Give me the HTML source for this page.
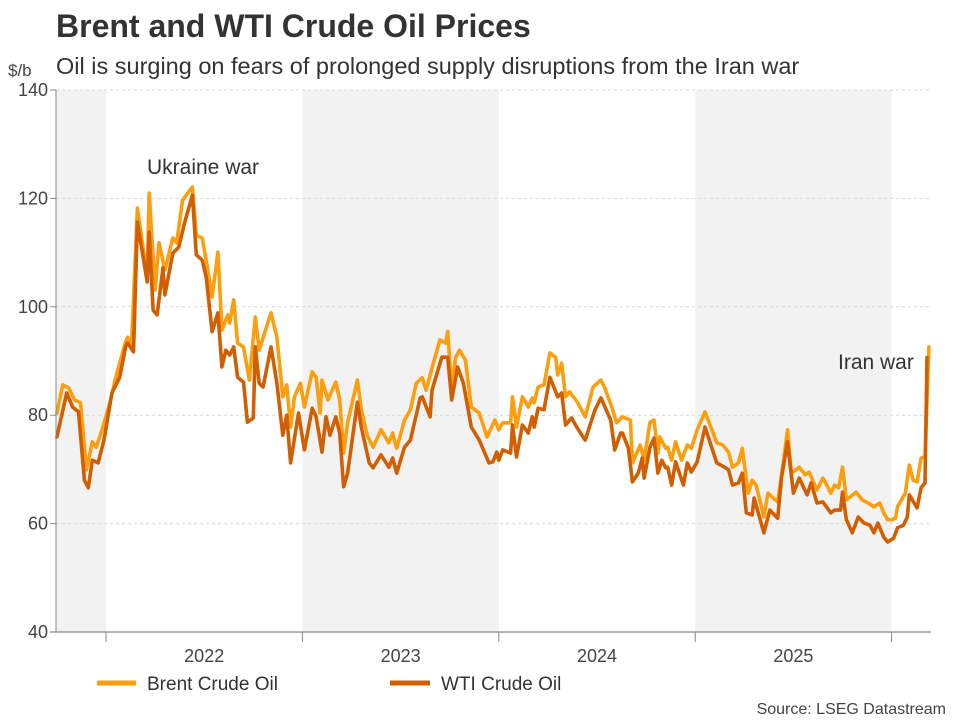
<!DOCTYPE html>
<html><head><meta charset="utf-8">
<style>
html,body{margin:0;padding:0;background:#fff;}
body{width:960px;height:720px;overflow:hidden;font-family:"Liberation Sans",sans-serif;}
svg text{font-family:"Liberation Sans",sans-serif;}
</style></head>
<body>
<svg id="chart" width="960" height="720" viewBox="0 0 960 720" xmlns="http://www.w3.org/2000/svg">
<text x="56" y="37" font-size="32" font-weight="bold" fill="#333">Brent and WTI Crude Oil Prices</text>
<text x="56" y="74" font-size="23.5" fill="#333">Oil is surging on fears of prolonged supply disruptions from the Iran war</text>
<text x="8" y="76" font-size="17" fill="#444">$/b</text>
<g id="bands"></g>
<g id="grid"></g>
<g id="series"></g>
<g id="axes"></g>
<text x="147" y="174" font-size="21" fill="#333">Ukraine war</text>
<text x="838" y="369" font-size="21" fill="#333">Iran war</text>
<g>
<line x1="97" y1="683" x2="136" y2="683" stroke="#fb9e0f" stroke-width="5"/>
<text x="147" y="690" font-size="19" fill="#333">Brent Crude Oil</text>
<line x1="390" y1="683" x2="430" y2="683" stroke="#d15f02" stroke-width="5"/>
<text x="441" y="690" font-size="19" fill="#333">WTI Crude Oil</text>
</g>
<text x="946" y="714" font-size="16" fill="#444" text-anchor="end">Source: LSEG Datastream</text>
</svg>
<script>
const yTicks = [40, 60, 80, 100, 120, 140];
const yearLabels = ["2022", "2023", "2024", "2025"];
const yearBoundaries = [2022, 2023, 2024, 2025, 2026];
const brentDates = [2021.75,2021.78,2021.81,2021.84,2021.87,2021.90,2021.93,2021.95,2021.98,2022.02,2022.05,2022.07,2022.10,2022.11,2022.13,2022.16,2022.21,2022.22,2022.25,2022.27,2022.30,2022.34,2022.36,2022.39,2022.44,2022.46,2022.49,2022.51,2022.54,2022.57,2022.59,2022.62,2022.63,2022.65,2022.67,2022.70,2022.73,2022.76,2022.78,2022.84,2022.87,2022.90,2022.92,2022.94,2022.96,2022.99,2023.01,2023.05,2023.07,2023.09,2023.10,2023.13,2023.17,2023.19,2023.21,2023.23,2023.28,2023.30,2023.33,2023.36,2023.40,2023.44,2023.46,2023.48,2023.52,2023.55,2023.58,2023.61,2023.63,2023.66,2023.70,2023.73,2023.74,2023.76,2023.78,2023.80,2023.83,2023.86,2023.90,2023.94,2023.98,2024.00,2024.02,2024.06,2024.07,2024.09,2024.12,2024.15,2024.17,2024.18,2024.20,2024.23,2024.26,2024.29,2024.30,2024.32,2024.34,2024.36,2024.40,2024.44,2024.48,2024.52,2024.54,2024.58,2024.60,2024.63,2024.67,2024.68,2024.72,2024.74,2024.77,2024.79,2024.81,2024.82,2024.85,2024.86,2024.88,2024.90,2024.93,2024.96,2024.98,2025.01,2025.05,2025.08,2025.11,2025.14,2025.17,2025.19,2025.22,2025.24,2025.27,2025.29,2025.31,2025.35,2025.37,2025.42,2025.45,2025.47,2025.49,2025.53,2025.56,2025.58,2025.62,2025.65,2025.67,2025.69,2025.71,2025.73,2025.75,2025.77,2025.82,2025.85,2025.88,2025.91,2025.94,2025.96,2025.98,2026.00,2026.02,2026.03,2026.07,2026.09,2026.11,2026.13,2026.15,2026.17,2026.19];
const brentValues = [80.4,85.6,85.0,82.8,82.3,69.9,75.1,74.1,77.3,82.3,87.0,89.6,93.5,94.4,92.6,118.2,105.5,121.0,103.1,111.8,106.8,112.7,111.8,119.7,122.1,113.2,112.7,108.6,101.8,110.1,95.7,98.5,97.0,101.3,93.3,92.6,86.5,98.1,92.0,98.9,94.4,83.4,85.6,77.8,83.4,85.9,81.5,88.0,87.0,80.4,86.5,82.8,86.1,82.8,73.0,78.6,86.5,81.0,76.3,74.1,77.3,74.9,76.7,73.9,79.1,81.0,85.9,86.9,84.6,88.7,93.9,93.3,95.4,85.0,90.7,92.0,90.2,81.5,80.4,76.0,79.1,77.3,78.6,78.6,83.4,77.8,83.4,81.5,83.2,82.3,85.2,85.6,91.5,90.6,87.4,89.6,83.4,84.3,82.4,79.7,85.2,86.5,85.0,81.0,78.6,79.7,79.1,71.2,74.5,71.7,78.7,79.1,73.0,76.0,73.9,74.1,71.7,75.1,71.7,74.5,73.9,77.3,80.6,77.8,74.9,74.5,73.2,70.4,71.2,73.9,65.6,68.0,67.1,61.2,65.6,64.0,71.7,77.3,69.3,70.4,69.0,69.5,66.2,68.4,67.1,65.6,67.1,66.6,70.4,64.4,65.8,64.4,63.8,63.1,63.8,62.0,60.7,60.7,61.0,63.1,65.6,70.8,68.0,67.7,72.1,72.3,92.6];
const wtiDates = [2021.75,2021.80,2021.83,2021.86,2021.89,2021.91,2021.93,2021.96,2021.99,2022.03,2022.07,2022.10,2022.11,2022.14,2022.16,2022.21,2022.22,2022.24,2022.26,2022.29,2022.30,2022.34,2022.37,2022.40,2022.44,2022.46,2022.49,2022.51,2022.54,2022.57,2022.59,2022.61,2022.63,2022.65,2022.67,2022.70,2022.72,2022.75,2022.76,2022.78,2022.80,2022.84,2022.87,2022.90,2022.92,2022.94,2022.98,2023.01,2023.05,2023.07,2023.10,2023.12,2023.14,2023.17,2023.19,2023.21,2023.23,2023.28,2023.30,2023.34,2023.36,2023.40,2023.44,2023.46,2023.48,2023.52,2023.55,2023.60,2023.61,2023.65,2023.66,2023.71,2023.74,2023.76,2023.79,2023.82,2023.86,2023.90,2023.95,2023.97,2023.99,2024.00,2024.02,2024.06,2024.07,2024.09,2024.12,2024.15,2024.17,2024.18,2024.20,2024.23,2024.26,2024.30,2024.32,2024.34,2024.37,2024.40,2024.44,2024.49,2024.52,2024.57,2024.59,2024.62,2024.63,2024.66,2024.68,2024.71,2024.73,2024.74,2024.77,2024.79,2024.81,2024.83,2024.85,2024.86,2024.88,2024.90,2024.94,2024.96,2024.98,2025.01,2025.05,2025.08,2025.11,2025.15,2025.17,2025.19,2025.22,2025.24,2025.26,2025.29,2025.30,2025.35,2025.38,2025.42,2025.44,2025.47,2025.50,2025.53,2025.57,2025.59,2025.62,2025.65,2025.69,2025.71,2025.74,2025.75,2025.77,2025.80,2025.83,2025.86,2025.89,2025.91,2025.93,2025.96,2025.98,2026.01,2026.03,2026.06,2026.08,2026.09,2026.13,2026.15,2026.17,2026.18];
const wtiValues = [76.0,84.1,81.5,80.6,68.0,66.6,71.7,71.2,75.4,84.1,87.0,92.6,93.3,91.7,115.6,104.6,113.8,99.4,98.5,107.2,102.2,109.9,111.0,115.5,120.6,109.6,108.6,105.5,95.4,98.9,88.9,92.0,91.1,92.6,87.0,86.1,78.7,79.5,92.6,85.9,85.2,92.6,85.9,76.3,80.0,71.2,80.4,73.6,81.3,79.7,73.2,79.7,76.3,79.7,76.7,66.8,69.3,82.4,77.8,71.2,70.3,72.7,70.4,72.1,69.3,74.1,75.4,83.2,83.4,79.7,84.6,90.7,90.7,82.8,88.9,85.9,77.8,75.4,71.2,71.4,73.2,71.7,73.6,73.0,78.2,72.3,78.2,76.7,79.7,77.8,81.3,81.0,87.0,83.4,84.1,78.2,79.5,77.6,75.4,81.0,83.2,79.1,73.6,76.7,76.7,73.9,67.7,69.3,72.1,68.4,74.1,75.8,69.3,71.7,70.3,70.4,67.1,71.4,67.1,71.2,69.5,71.4,77.8,74.5,71.2,70.4,69.9,67.1,67.5,69.3,62.0,61.6,64.7,58.3,62.5,61.0,68.6,75.1,65.6,68.4,65.3,67.5,63.8,64.0,62.0,62.5,62.5,65.8,60.7,58.3,61.2,60.1,59.7,58.3,60.1,57.5,56.6,57.3,59.2,59.7,61.2,65.3,62.9,66.6,67.5,90.6];

const NS = "http://www.w3.org/2000/svg";
const plot = {left:56, right:931, top:90, bottom:632};
function xScale(d){ return 106 + (d - 2022) * 196.4; }
function yScale(v){ return plot.bottom - (v - 40) / 100 * (plot.bottom - plot.top); }
function mk(tag, attrs, parent){ const e = document.createElementNS(NS, tag); for (const k in attrs) e.setAttribute(k, attrs[k]); parent.appendChild(e); return e; }

const bands = document.getElementById('bands');
const grid = document.getElementById('grid');
const axes = document.getElementById('axes');
const series = document.getElementById('series');

const shadeStarts = [2021, 2023, 2025];
shadeStarts.forEach(function(y){
  const x0 = Math.max(plot.left, xScale(y));
  const x1 = Math.min(plot.right, xScale(y + 1));
  const r = mk('rect', {x:x0, y:plot.top, width:x1 - x0, height:plot.bottom - plot.top, fill:'#f2f2f2'}, bands);
  
  
});

yTicks.forEach(function(t){
  const y = yScale(t);
  if (t > 40) {
    const g = mk('line', {x1:plot.left, x2:plot.right, y1:y, y2:y, stroke:'#d8d8d8', 'stroke-width':1, 'stroke-dasharray':'3,3'}, grid);
    
    
  }
  const tk = mk('line', {x1:plot.left - 6, x2:plot.left, y1:y, y2:y, stroke:'#888', 'stroke-width':1}, axes);
  
  
  const lb = mk('text', {x:plot.left - 8, y:y + 6, 'font-size':18, fill:'#444', 'text-anchor':'end'}, axes);
  lb.textContent = t;
  
  
});

const yAxis = mk('line', {x1:plot.left, x2:plot.left, y1:plot.top, y2:plot.bottom, stroke:'#888', 'stroke-width':1}, axes);


const xAxis = mk('line', {x1:plot.left - 6, x2:plot.right, y1:plot.bottom, y2:plot.bottom, stroke:'#888', 'stroke-width':1.3}, axes);



yearBoundaries.forEach(function(y){
  const x = xScale(y);
  const t = mk('line', {x1:x, x2:x, y1:plot.bottom, y2:plot.bottom + 10, stroke:'#888', 'stroke-width':1}, axes);
  
  
});
yearLabels.forEach(function(lbl){
  const y = parseInt(lbl, 10);
  const x = (xScale(y) + xScale(y + 1)) / 2;
  const t = mk('text', {x:x, y:plot.bottom + 30, 'font-size':18, fill:'#444', 'text-anchor':'middle'}, axes);
  t.textContent = lbl;
  
  
});

function drawLine(dates, vals, color, name){
  let d = '';
  for (let i = 0; i < dates.length; i++) d += (i ? 'L' : 'M') + xScale(dates[i]).toFixed(1) + ',' + yScale(vals[i]).toFixed(1);
  const p = mk('path', {d:d, fill:'none', stroke:color, 'stroke-width':3.6, 'stroke-linejoin':'round', 'stroke-linecap':'round'}, series);
  
  
}
drawLine(brentDates, brentValues, '#fb9e0f', 'brent-line');
drawLine(wtiDates, wtiValues, '#d15f02', 'wti-line');
</script>
</body></html>
